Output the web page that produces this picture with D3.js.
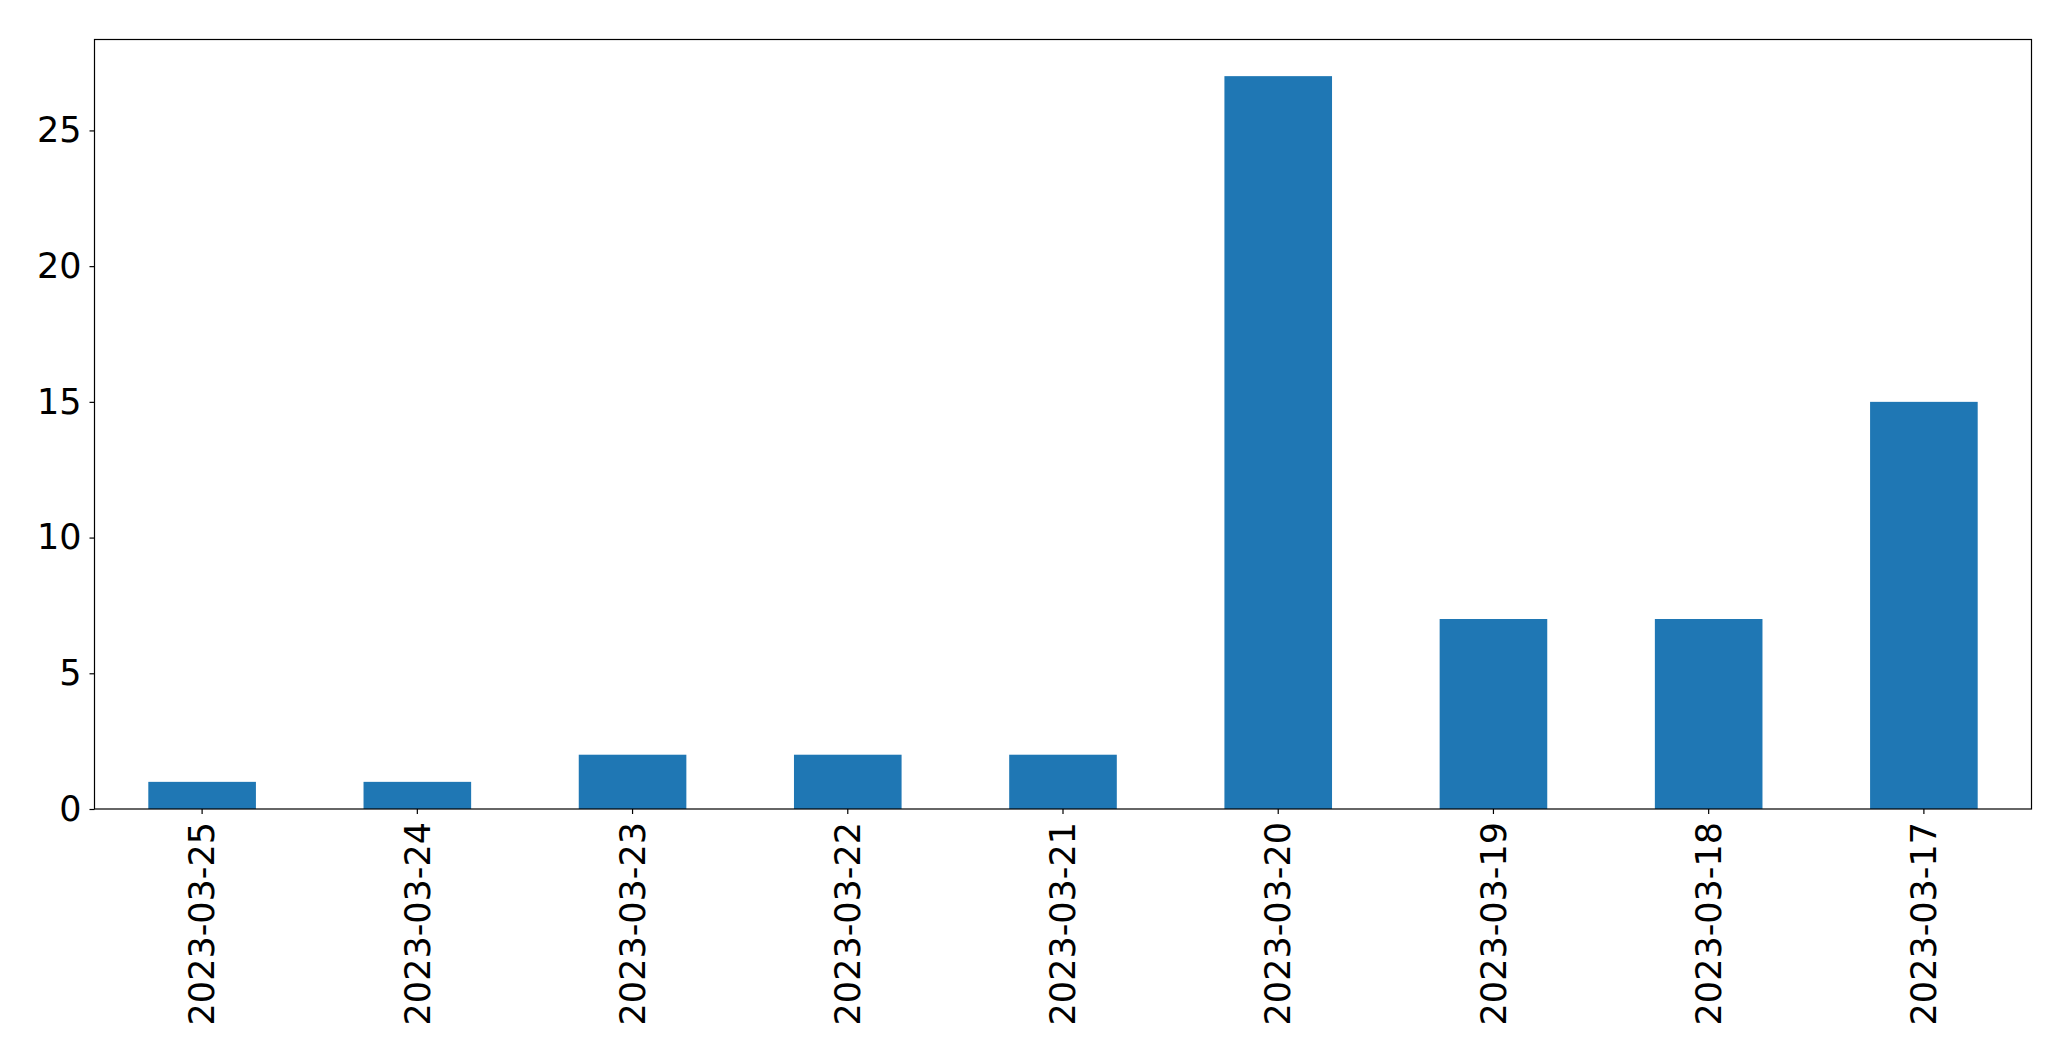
<!DOCTYPE html>
<html><head><meta charset="utf-8">
<script src="https://cdn.jsdelivr.net/npm/d3@7"></script>
<style>body{margin:0;background:#fff}svg{display:block}</style>
</head><body>
<script>
const categories = ["2023-03-25","2023-03-24","2023-03-23","2023-03-22","2023-03-21","2023-03-20","2023-03-19","2023-03-18","2023-03-17"];
const counts = [1,1,2,2,2,27,7,7,15];
const yTicks = [0,5,10,15,20,25];

const W = 2071, H = 1061;
const m = {left: 94.5, top: 39.5, right: 2071 - 2031.5, bottom: 1061 - 809};
const svg = d3.select("body").append("svg").attr("width", W).attr("height", H);
const iw = W - m.left - m.right, ih = H - m.top - m.bottom;
const g = svg.append("g").attr("transform", `translate(${m.left},${m.top})`);

const x = d3.scaleBand().domain(categories).range([0, iw]).paddingInner(0.5).paddingOuter(0.25);
const y = d3.scaleLinear().domain([0, d3.max(counts) * 1.05]).range([ih, 0]);

g.selectAll("rect.bar").data(categories).join("rect")
  .attr("class","bar")
  .attr("x", d => x(d)).attr("width", x.bandwidth())
  .attr("y", (d,i) => y(counts[i])).attr("height", (d,i) => ih - y(counts[i]))
  .attr("fill", "#1f77b4");

const font = "'DejaVu Sans', sans-serif";
const yAxis = g.append("g").call(d3.axisLeft(y).tickValues(yTicks).tickSize(5).tickPadding(8));
const xAxis = g.append("g").attr("transform", `translate(0,${ih})`).call(d3.axisBottom(x).tickSize(5).tickPadding(8));
[yAxis, xAxis].forEach(a => {
  a.select(".domain").remove();
  a.selectAll("text").attr("font-family", font).attr("font-size", 35).attr("fill", "#000");
  a.selectAll("line").attr("stroke", "#000").attr("stroke-width", 1.2);
});
xAxis.selectAll("text")
  .attr("transform", "rotate(-90)")
  .attr("text-anchor", "end")
  .attr("x", -13).attr("y", 0).attr("dy", "0.35em");

g.append("rect").attr("x", 0).attr("y", 0).attr("width", iw).attr("height", ih)
  .attr("fill", "none").attr("stroke", "#000").attr("stroke-width", 1.2);
</script>
</body></html>
